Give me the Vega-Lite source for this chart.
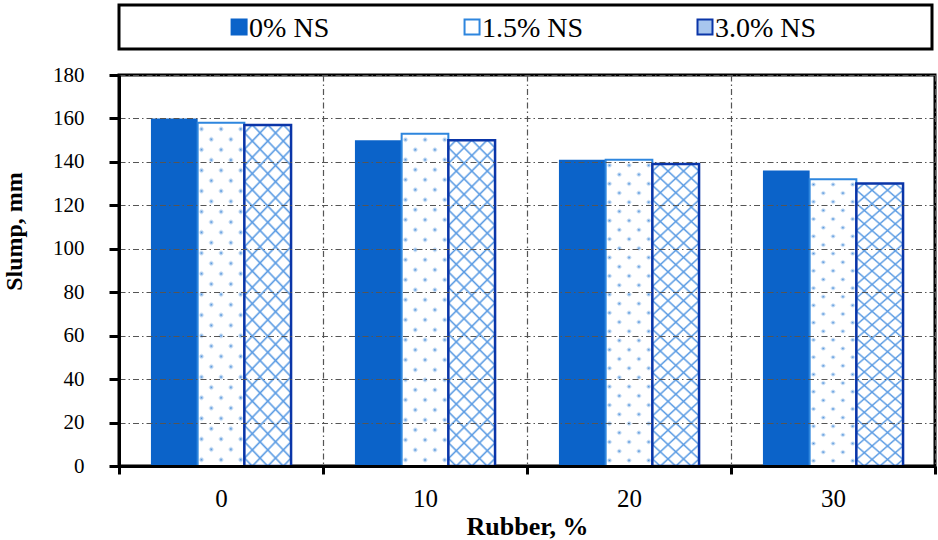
{
  "$schema": "https://vega.github.io/schema/vega-lite/v6.json",
  "padding": {"left": 0, "top": 3, "right": 0, "bottom": 0},
  "spacing": 11,
  "config": {
    "font": "Liberation Serif",
    "view": {"stroke": null},
    "text": {"font": "Liberation Serif"},
    "axis": {
      "labelFont": "Liberation Serif",
      "titleFont": "Liberation Serif",
      "labelColor": "#000000",
      "titleColor": "#000000",
      "tickColor": "#000000",
      "domainColor": "#000000",
      "domainWidth": 3,
      "tickWidth": 3,
      "titleFontWeight": "bold",
      "gridColor": "#555555",
      "gridWidth": 1.2,
      "gridDash": [6, 3, 1.5, 3],
      "gridOpacity": 1
    }
  },
  "datasets": {
    "slump": [
      {"rubber": 0, "series": "0% NS", "slump": 160},
      {"rubber": 0, "series": "1.5% NS", "slump": 158},
      {"rubber": 0, "series": "3.0% NS", "slump": 157},
      {"rubber": 10, "series": "0% NS", "slump": 150},
      {"rubber": 10, "series": "1.5% NS", "slump": 153},
      {"rubber": 10, "series": "3.0% NS", "slump": 150},
      {"rubber": 20, "series": "0% NS", "slump": 141},
      {"rubber": 20, "series": "1.5% NS", "slump": 141},
      {"rubber": 20, "series": "3.0% NS", "slump": 139},
      {"rubber": 30, "series": "0% NS", "slump": 136},
      {"rubber": 30, "series": "1.5% NS", "slump": 132},
      {"rubber": 30, "series": "3.0% NS", "slump": 130}
    ],
    "series": [
      {"series": "0% NS"},
      {"series": "1.5% NS"},
      {"series": "3.0% NS"}
    ]
  },
  "vconcat": [
    {
      "width": 813,
      "height": 44,
      "view": {"stroke": "#000000", "strokeWidth": 3},
      "data": {"name": "series"},
      "encoding": {
        "x": {
          "field": "series",
          "type": "nominal",
          "sort": null,
          "scale": {"type": "point", "padding": 0.745, "align": 0.346},
          "axis": null
        }
      },
      "layer": [
        {
          "mark": {"type": "point", "shape": "square", "filled": true, "size": 225, "strokeWidth": 2, "opacity": 1},
          "encoding": {
            "fill": {
              "field": "series",
              "type": "nominal",
              "scale": {"domain": ["0% NS", "1.5% NS", "3.0% NS"], "range": ["#0b63c9", "#ffffff", "#a8c6ee"]},
              "legend": null
            },
            "stroke": {
              "field": "series",
              "type": "nominal",
              "scale": {"domain": ["0% NS", "1.5% NS", "3.0% NS"], "range": ["#0b63c9", "#2e86de", "#0a35a8"]},
              "legend": null
            }
          }
        },
        {
          "mark": {"type": "text", "align": "left", "baseline": "middle", "dx": 10, "dy": 2, "fontSize": 28, "font": "Liberation Serif", "color": "#000000"},
          "encoding": {"text": {"field": "series"}}
        }
      ]
    },
    {
      "width": 816,
      "height": 391,
      "view": {"stroke": "#000000", "strokeWidth": 3},
      "data": {"name": "slump"},
      "encoding": {
        "x": {
          "field": "rubber",
          "type": "ordinal",
          "scale": {"paddingInner": 0, "paddingOuter": 0},
          "axis": {
            "title": "Rubber, %",
            "titleFontSize": 26,
            "titlePadding": 2,
            "labelFontSize": 25,
            "labelAngle": 0,
            "labelPadding": 12,
            "tickSize": 8,
            "tickBand": "extent",
            "grid": true,
            "zindex": 1
          }
        },
        "xOffset": {
          "field": "series",
          "type": "nominal",
          "scale": {"domain": ["0% NS", "1.5% NS", "3.0% NS"], "paddingInner": 0, "paddingOuter": 0.684}
        },
        "y": {
          "field": "slump",
          "type": "quantitative",
          "scale": {"domain": [0, 180], "nice": false},
          "axis": {
            "title": "Slump, mm",
            "titleFontSize": 24,
            "titleX": -93,
            "titleY": 156,
            "titleBaseline": "bottom",
            "labelFontSize": 21,
            "labelPadding": 25,
            "tickSize": 10,
            "values": [0, 20, 40, 60, 80, 100, 120, 140, 160, 180],
            "grid": true,
            "zindex": 1
          }
        }
      },
      "layer": [
        {
          "transform": [{"filter": "datum.series === '0% NS'"}],
          "mark": {"type": "bar", "fill": "#0b63c9"}
        },
        {
          "transform": [{"filter": "datum.series === '1.5% NS'"}],
          "mark": {
            "type": "bar",
            "fill": {
              "gradient": "linear", "x1": 0, "y1": 0, "x2": 0.161, "y2": 1.121,
              "stops": [
                {"offset": 0, "color": "#ffffff"},
                {"offset": 0.0163, "color": "#ffffff"}, {"offset": 0.0263, "color": "#4a8fda"}, {"offset": 0.0363, "color": "#ffffff"},
                {"offset": 0.0689, "color": "#ffffff"}, {"offset": 0.0789, "color": "#4a8fda"}, {"offset": 0.0889, "color": "#ffffff"},
                {"offset": 0.1216, "color": "#ffffff"}, {"offset": 0.1316, "color": "#4a8fda"}, {"offset": 0.1416, "color": "#ffffff"},
                {"offset": 0.1742, "color": "#ffffff"}, {"offset": 0.1842, "color": "#4a8fda"}, {"offset": 0.1942, "color": "#ffffff"},
                {"offset": 0.2268, "color": "#ffffff"}, {"offset": 0.2368, "color": "#4a8fda"}, {"offset": 0.2468, "color": "#ffffff"},
                {"offset": 0.2795, "color": "#ffffff"}, {"offset": 0.2895, "color": "#4a8fda"}, {"offset": 0.2995, "color": "#ffffff"},
                {"offset": 0.3321, "color": "#ffffff"}, {"offset": 0.3421, "color": "#4a8fda"}, {"offset": 0.3521, "color": "#ffffff"},
                {"offset": 0.3847, "color": "#ffffff"}, {"offset": 0.3947, "color": "#4a8fda"}, {"offset": 0.4047, "color": "#ffffff"},
                {"offset": 0.4374, "color": "#ffffff"}, {"offset": 0.4474, "color": "#4a8fda"}, {"offset": 0.4574, "color": "#ffffff"},
                {"offset": 0.49, "color": "#ffffff"}, {"offset": 0.5, "color": "#4a8fda"}, {"offset": 0.51, "color": "#ffffff"},
                {"offset": 0.5426, "color": "#ffffff"}, {"offset": 0.5526, "color": "#4a8fda"}, {"offset": 0.5626, "color": "#ffffff"},
                {"offset": 0.5953, "color": "#ffffff"}, {"offset": 0.6053, "color": "#4a8fda"}, {"offset": 0.6153, "color": "#ffffff"},
                {"offset": 0.6479, "color": "#ffffff"}, {"offset": 0.6579, "color": "#4a8fda"}, {"offset": 0.6679, "color": "#ffffff"},
                {"offset": 0.7005, "color": "#ffffff"}, {"offset": 0.7105, "color": "#4a8fda"}, {"offset": 0.7205, "color": "#ffffff"},
                {"offset": 0.7532, "color": "#ffffff"}, {"offset": 0.7632, "color": "#4a8fda"}, {"offset": 0.7732, "color": "#ffffff"},
                {"offset": 0.8058, "color": "#ffffff"}, {"offset": 0.8158, "color": "#4a8fda"}, {"offset": 0.8258, "color": "#ffffff"},
                {"offset": 0.8584, "color": "#ffffff"}, {"offset": 0.8684, "color": "#4a8fda"}, {"offset": 0.8784, "color": "#ffffff"},
                {"offset": 0.9111, "color": "#ffffff"}, {"offset": 0.9211, "color": "#4a8fda"}, {"offset": 0.9311, "color": "#ffffff"},
                {"offset": 0.9637, "color": "#ffffff"}, {"offset": 0.9737, "color": "#4a8fda"}, {"offset": 0.9837, "color": "#ffffff"},
                {"offset": 1, "color": "#ffffff"}
              ]
            }
          }
        },
        {
          "transform": [{"filter": "datum.series === '1.5% NS'"}],
          "mark": {
            "type": "bar",
            "stroke": "#2e86de",
            "strokeWidth": 2,
            "fill": {
              "gradient": "linear", "x1": 0, "y1": 1, "x2": 0.161, "y2": -0.121,
              "stops": [
                {"offset": 0, "color": "#ffffff"},
                {"offset": 0.0163, "color": "#ffffff"}, {"offset": 0.0263, "color": "rgba(255,255,255,0)"}, {"offset": 0.0363, "color": "#ffffff"},
                {"offset": 0.0689, "color": "#ffffff"}, {"offset": 0.0789, "color": "rgba(255,255,255,0)"}, {"offset": 0.0889, "color": "#ffffff"},
                {"offset": 0.1216, "color": "#ffffff"}, {"offset": 0.1316, "color": "rgba(255,255,255,0)"}, {"offset": 0.1416, "color": "#ffffff"},
                {"offset": 0.1742, "color": "#ffffff"}, {"offset": 0.1842, "color": "rgba(255,255,255,0)"}, {"offset": 0.1942, "color": "#ffffff"},
                {"offset": 0.2268, "color": "#ffffff"}, {"offset": 0.2368, "color": "rgba(255,255,255,0)"}, {"offset": 0.2468, "color": "#ffffff"},
                {"offset": 0.2795, "color": "#ffffff"}, {"offset": 0.2895, "color": "rgba(255,255,255,0)"}, {"offset": 0.2995, "color": "#ffffff"},
                {"offset": 0.3321, "color": "#ffffff"}, {"offset": 0.3421, "color": "rgba(255,255,255,0)"}, {"offset": 0.3521, "color": "#ffffff"},
                {"offset": 0.3847, "color": "#ffffff"}, {"offset": 0.3947, "color": "rgba(255,255,255,0)"}, {"offset": 0.4047, "color": "#ffffff"},
                {"offset": 0.4374, "color": "#ffffff"}, {"offset": 0.4474, "color": "rgba(255,255,255,0)"}, {"offset": 0.4574, "color": "#ffffff"},
                {"offset": 0.49, "color": "#ffffff"}, {"offset": 0.5, "color": "rgba(255,255,255,0)"}, {"offset": 0.51, "color": "#ffffff"},
                {"offset": 0.5426, "color": "#ffffff"}, {"offset": 0.5526, "color": "rgba(255,255,255,0)"}, {"offset": 0.5626, "color": "#ffffff"},
                {"offset": 0.5953, "color": "#ffffff"}, {"offset": 0.6053, "color": "rgba(255,255,255,0)"}, {"offset": 0.6153, "color": "#ffffff"},
                {"offset": 0.6479, "color": "#ffffff"}, {"offset": 0.6579, "color": "rgba(255,255,255,0)"}, {"offset": 0.6679, "color": "#ffffff"},
                {"offset": 0.7005, "color": "#ffffff"}, {"offset": 0.7105, "color": "rgba(255,255,255,0)"}, {"offset": 0.7205, "color": "#ffffff"},
                {"offset": 0.7532, "color": "#ffffff"}, {"offset": 0.7632, "color": "rgba(255,255,255,0)"}, {"offset": 0.7732, "color": "#ffffff"},
                {"offset": 0.8058, "color": "#ffffff"}, {"offset": 0.8158, "color": "rgba(255,255,255,0)"}, {"offset": 0.8258, "color": "#ffffff"},
                {"offset": 0.8584, "color": "#ffffff"}, {"offset": 0.8684, "color": "rgba(255,255,255,0)"}, {"offset": 0.8784, "color": "#ffffff"},
                {"offset": 0.9111, "color": "#ffffff"}, {"offset": 0.9211, "color": "rgba(255,255,255,0)"}, {"offset": 0.9311, "color": "#ffffff"},
                {"offset": 0.9637, "color": "#ffffff"}, {"offset": 0.9737, "color": "rgba(255,255,255,0)"}, {"offset": 0.9837, "color": "#ffffff"},
                {"offset": 1, "color": "#ffffff"}
              ]
            }
          }
        },
        {
          "transform": [{"filter": "datum.series === '3.0% NS'"}],
          "mark": {
            "type": "bar",
            "fill": {
              "gradient": "linear", "x1": 0, "y1": 0, "x2": 0.161, "y2": 1.121,
              "stops": [
                {"offset": 0, "color": "#ffffff"},
                {"offset": 0.0148, "color": "#ffffff"}, {"offset": 0.0208, "color": "#5a9be3"}, {"offset": 0.0268, "color": "#ffffff"},
                {"offset": 0.0565, "color": "#ffffff"}, {"offset": 0.0625, "color": "#5a9be3"}, {"offset": 0.0685, "color": "#ffffff"},
                {"offset": 0.0982, "color": "#ffffff"}, {"offset": 0.1042, "color": "#5a9be3"}, {"offset": 0.1102, "color": "#ffffff"},
                {"offset": 0.1398, "color": "#ffffff"}, {"offset": 0.1458, "color": "#5a9be3"}, {"offset": 0.1518, "color": "#ffffff"},
                {"offset": 0.1815, "color": "#ffffff"}, {"offset": 0.1875, "color": "#5a9be3"}, {"offset": 0.1935, "color": "#ffffff"},
                {"offset": 0.2232, "color": "#ffffff"}, {"offset": 0.2292, "color": "#5a9be3"}, {"offset": 0.2352, "color": "#ffffff"},
                {"offset": 0.2648, "color": "#ffffff"}, {"offset": 0.2708, "color": "#5a9be3"}, {"offset": 0.2768, "color": "#ffffff"},
                {"offset": 0.3065, "color": "#ffffff"}, {"offset": 0.3125, "color": "#5a9be3"}, {"offset": 0.3185, "color": "#ffffff"},
                {"offset": 0.3482, "color": "#ffffff"}, {"offset": 0.3542, "color": "#5a9be3"}, {"offset": 0.3602, "color": "#ffffff"},
                {"offset": 0.3898, "color": "#ffffff"}, {"offset": 0.3958, "color": "#5a9be3"}, {"offset": 0.4018, "color": "#ffffff"},
                {"offset": 0.4315, "color": "#ffffff"}, {"offset": 0.4375, "color": "#5a9be3"}, {"offset": 0.4435, "color": "#ffffff"},
                {"offset": 0.4732, "color": "#ffffff"}, {"offset": 0.4792, "color": "#5a9be3"}, {"offset": 0.4852, "color": "#ffffff"},
                {"offset": 0.5148, "color": "#ffffff"}, {"offset": 0.5208, "color": "#5a9be3"}, {"offset": 0.5268, "color": "#ffffff"},
                {"offset": 0.5565, "color": "#ffffff"}, {"offset": 0.5625, "color": "#5a9be3"}, {"offset": 0.5685, "color": "#ffffff"},
                {"offset": 0.5982, "color": "#ffffff"}, {"offset": 0.6042, "color": "#5a9be3"}, {"offset": 0.6102, "color": "#ffffff"},
                {"offset": 0.6398, "color": "#ffffff"}, {"offset": 0.6458, "color": "#5a9be3"}, {"offset": 0.6518, "color": "#ffffff"},
                {"offset": 0.6815, "color": "#ffffff"}, {"offset": 0.6875, "color": "#5a9be3"}, {"offset": 0.6935, "color": "#ffffff"},
                {"offset": 0.7232, "color": "#ffffff"}, {"offset": 0.7292, "color": "#5a9be3"}, {"offset": 0.7352, "color": "#ffffff"},
                {"offset": 0.7648, "color": "#ffffff"}, {"offset": 0.7708, "color": "#5a9be3"}, {"offset": 0.7768, "color": "#ffffff"},
                {"offset": 0.8065, "color": "#ffffff"}, {"offset": 0.8125, "color": "#5a9be3"}, {"offset": 0.8185, "color": "#ffffff"},
                {"offset": 0.8482, "color": "#ffffff"}, {"offset": 0.8542, "color": "#5a9be3"}, {"offset": 0.8602, "color": "#ffffff"},
                {"offset": 0.8898, "color": "#ffffff"}, {"offset": 0.8958, "color": "#5a9be3"}, {"offset": 0.9018, "color": "#ffffff"},
                {"offset": 0.9315, "color": "#ffffff"}, {"offset": 0.9375, "color": "#5a9be3"}, {"offset": 0.9435, "color": "#ffffff"},
                {"offset": 0.9732, "color": "#ffffff"}, {"offset": 0.9792, "color": "#5a9be3"}, {"offset": 0.9852, "color": "#ffffff"},
                {"offset": 1, "color": "#ffffff"}
              ]
            }
          }
        },
        {
          "transform": [{"filter": "datum.series === '3.0% NS'"}],
          "mark": {
            "type": "bar",
            "stroke": "#0a35a8",
            "strokeWidth": 2.5,
            "fill": {
              "gradient": "linear", "x1": 0, "y1": 1, "x2": 0.161, "y2": -0.121,
              "stops": [
                {"offset": 0, "color": "rgba(90,155,227,0)"},
                {"offset": 0.0148, "color": "rgba(90,155,227,0)"}, {"offset": 0.0208, "color": "#5a9be3"}, {"offset": 0.0268, "color": "rgba(90,155,227,0)"},
                {"offset": 0.0565, "color": "rgba(90,155,227,0)"}, {"offset": 0.0625, "color": "#5a9be3"}, {"offset": 0.0685, "color": "rgba(90,155,227,0)"},
                {"offset": 0.0982, "color": "rgba(90,155,227,0)"}, {"offset": 0.1042, "color": "#5a9be3"}, {"offset": 0.1102, "color": "rgba(90,155,227,0)"},
                {"offset": 0.1398, "color": "rgba(90,155,227,0)"}, {"offset": 0.1458, "color": "#5a9be3"}, {"offset": 0.1518, "color": "rgba(90,155,227,0)"},
                {"offset": 0.1815, "color": "rgba(90,155,227,0)"}, {"offset": 0.1875, "color": "#5a9be3"}, {"offset": 0.1935, "color": "rgba(90,155,227,0)"},
                {"offset": 0.2232, "color": "rgba(90,155,227,0)"}, {"offset": 0.2292, "color": "#5a9be3"}, {"offset": 0.2352, "color": "rgba(90,155,227,0)"},
                {"offset": 0.2648, "color": "rgba(90,155,227,0)"}, {"offset": 0.2708, "color": "#5a9be3"}, {"offset": 0.2768, "color": "rgba(90,155,227,0)"},
                {"offset": 0.3065, "color": "rgba(90,155,227,0)"}, {"offset": 0.3125, "color": "#5a9be3"}, {"offset": 0.3185, "color": "rgba(90,155,227,0)"},
                {"offset": 0.3482, "color": "rgba(90,155,227,0)"}, {"offset": 0.3542, "color": "#5a9be3"}, {"offset": 0.3602, "color": "rgba(90,155,227,0)"},
                {"offset": 0.3898, "color": "rgba(90,155,227,0)"}, {"offset": 0.3958, "color": "#5a9be3"}, {"offset": 0.4018, "color": "rgba(90,155,227,0)"},
                {"offset": 0.4315, "color": "rgba(90,155,227,0)"}, {"offset": 0.4375, "color": "#5a9be3"}, {"offset": 0.4435, "color": "rgba(90,155,227,0)"},
                {"offset": 0.4732, "color": "rgba(90,155,227,0)"}, {"offset": 0.4792, "color": "#5a9be3"}, {"offset": 0.4852, "color": "rgba(90,155,227,0)"},
                {"offset": 0.5148, "color": "rgba(90,155,227,0)"}, {"offset": 0.5208, "color": "#5a9be3"}, {"offset": 0.5268, "color": "rgba(90,155,227,0)"},
                {"offset": 0.5565, "color": "rgba(90,155,227,0)"}, {"offset": 0.5625, "color": "#5a9be3"}, {"offset": 0.5685, "color": "rgba(90,155,227,0)"},
                {"offset": 0.5982, "color": "rgba(90,155,227,0)"}, {"offset": 0.6042, "color": "#5a9be3"}, {"offset": 0.6102, "color": "rgba(90,155,227,0)"},
                {"offset": 0.6398, "color": "rgba(90,155,227,0)"}, {"offset": 0.6458, "color": "#5a9be3"}, {"offset": 0.6518, "color": "rgba(90,155,227,0)"},
                {"offset": 0.6815, "color": "rgba(90,155,227,0)"}, {"offset": 0.6875, "color": "#5a9be3"}, {"offset": 0.6935, "color": "rgba(90,155,227,0)"},
                {"offset": 0.7232, "color": "rgba(90,155,227,0)"}, {"offset": 0.7292, "color": "#5a9be3"}, {"offset": 0.7352, "color": "rgba(90,155,227,0)"},
                {"offset": 0.7648, "color": "rgba(90,155,227,0)"}, {"offset": 0.7708, "color": "#5a9be3"}, {"offset": 0.7768, "color": "rgba(90,155,227,0)"},
                {"offset": 0.8065, "color": "rgba(90,155,227,0)"}, {"offset": 0.8125, "color": "#5a9be3"}, {"offset": 0.8185, "color": "rgba(90,155,227,0)"},
                {"offset": 0.8482, "color": "rgba(90,155,227,0)"}, {"offset": 0.8542, "color": "#5a9be3"}, {"offset": 0.8602, "color": "rgba(90,155,227,0)"},
                {"offset": 0.8898, "color": "rgba(90,155,227,0)"}, {"offset": 0.8958, "color": "#5a9be3"}, {"offset": 0.9018, "color": "rgba(90,155,227,0)"},
                {"offset": 0.9315, "color": "rgba(90,155,227,0)"}, {"offset": 0.9375, "color": "#5a9be3"}, {"offset": 0.9435, "color": "rgba(90,155,227,0)"},
                {"offset": 0.9732, "color": "rgba(90,155,227,0)"}, {"offset": 0.9792, "color": "#5a9be3"}, {"offset": 0.9852, "color": "rgba(90,155,227,0)"},
                {"offset": 1, "color": "rgba(90,155,227,0)"}
              ]
            }
          }
        }
      ]
    }
  ]
}
